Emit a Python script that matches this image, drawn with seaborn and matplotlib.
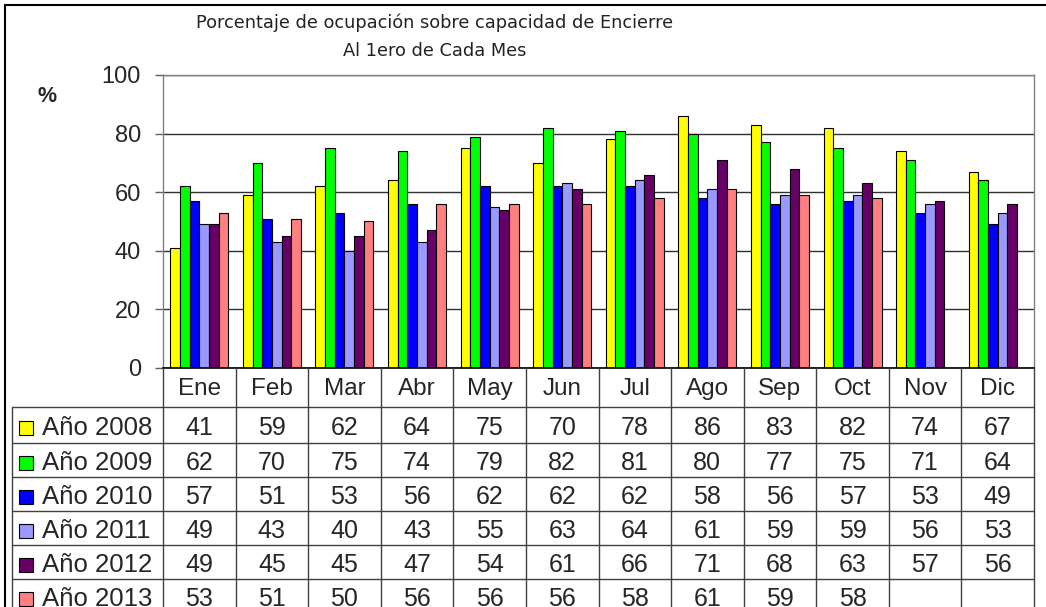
import numpy as np
import pandas as pd
import matplotlib
matplotlib.use("Agg")
import matplotlib.pyplot as plt
import seaborn as sns
from matplotlib.transforms import blended_transform_factory
from matplotlib.patches import Rectangle
from matplotlib.lines import Line2D

months = ["Ene", "Feb", "Mar", "Abr", "May", "Jun", "Jul", "Ago", "Sep", "Oct", "Nov", "Dic"]
years = ["Año 2008", "Año 2009", "Año 2010", "Año 2011", "Año 2012", "Año 2013"]
v2008 = [41, 59, 62, 64, 75, 70, 78, 86, 83, 82, 74, 67]
v2009 = [62, 70, 75, 74, 79, 82, 81, 80, 77, 75, 71, 64]
v2010 = [57, 51, 53, 56, 62, 62, 62, 58, 56, 57, 53, 49]
v2011 = [49, 43, 40, 43, 55, 63, 64, 61, 59, 59, 56, 53]
v2012 = [49, 45, 45, 47, 54, 61, 66, 71, 68, 63, 57, 56]
v2013 = [53, 51, 50, 56, 56, 56, 58, 61, 59, 58, None, None]
series = [v2008, v2009, v2010, v2011, v2012, v2013]
colors = ["#FFFF00", "#00FF00", "#0000FF", "#9999FF", "#660066", "#FF8080"]
yticks = [0, 20, 40, 60, 80, 100]
title_lines = ["Porcentaje de ocupación sobre capacidad de Encierre", "Al 1ero de Cada Mes"]

rows = []
for yr, vals in zip(years, series):
    for m, v in zip(months, vals):
        rows.append({"Mes": m, "Año": yr, "Valor": np.nan if v is None else v})
df = pd.DataFrame(rows).dropna()

sns.set_style("white")
plt.rcParams["font.family"] = ["Liberation Sans", "DejaVu Sans"]

W, H = 1046, 607
fig = plt.figure(figsize=(W / 100, H / 100), dpi=100)
fig.patch.set_facecolor("white")

L, R, T, B = 163, 1034, 75, 368
ax = fig.add_axes([L / W, 1 - B / H, (R - L) / W, (B - T) / H])
sns.barplot(data=df, x="Mes", y="Valor", hue="Año", order=months, hue_order=years,
            palette=colors, saturation=1, edgecolor="black", linewidth=0.8,
            width=0.8, legend=False, ax=ax, errorbar=None)
ax.set_xlim(-0.5, len(months) - 0.5)
ax.set_ylim(0, 100)
ax.set_yticks(yticks)
ax.set_yticklabels([str(t) for t in yticks], fontsize=17)
ax.set_xticks([])
ax.set_xlabel("")
ax.set_ylabel("")
ax.yaxis.grid(True, color="#303030", linewidth=1)
ax.set_axisbelow(True)
ax.tick_params(axis="y", direction="out", length=6, width=1, color="#606060", pad=10, left=True)
for s in ["top", "right", "left"]:
    ax.spines[s].set_color("#808080")
    ax.spines[s].set_linewidth(1)
ax.spines["bottom"].set_color("black")
ax.spines["bottom"].set_linewidth(1.2)

# overlay in pixel coordinates
ov = fig.add_axes([0, 0, 1, 1], zorder=5)
ov.set_xlim(0, W)
ov.set_ylim(H, 0)
ov.axis("off")
bt = blended_transform_factory(ax.transData, ov.transData)

# outer frame
ov.add_line(Line2D([5, W], [5, 5], color="black", lw=1.5))
ov.add_line(Line2D([5, 5], [5, H], color="black", lw=1.5))

# title and % label
ov.text(435, 23, title_lines[0], ha="center", va="center", fontsize=12.8, family="DejaVu Sans", color="#222222")
ov.text(435, 51, title_lines[1], ha="center", va="center", fontsize=12.8, family="DejaVu Sans", color="#222222")
ov.text(47, 97, "%", ha="center", va="center", fontsize=15.5, fontweight="bold")

# data table
row_tops = [407, 443, 477, 511, 545, 579]
row_h = 34
line_c = "#404040"
for yt in row_tops:
    ov.add_line(Line2D([12, R], [yt, yt], color=line_c, lw=1))
ov.add_line(Line2D([12, 12], [row_tops[0], H], color=line_c, lw=1))
for i in range(len(months) + 1):
    ov.add_line(Line2D([i - 0.5, i - 0.5], [B, H], color=line_c, lw=1, transform=bt))

for i, m in enumerate(months):
    ov.text(i, 389, m, ha="center", va="center", fontsize=17.5, transform=bt)

for r, (yr, vals, c) in enumerate(zip(years, series, colors)):
    yc = row_tops[r] + (row_tops[r + 1] - row_tops[r] if r + 1 < len(row_tops) else row_h) / 2 + 3
    ov.add_patch(Rectangle((19, yc - 7), 14, 14, facecolor=c, edgecolor="black", lw=0.8))
    ov.text(42, yc, yr, ha="left", va="center", fontsize=18.5)
    for i, v in enumerate(vals):
        if v is not None:
            ov.text(i, yc, str(v), ha="center", va="center", fontsize=18, transform=bt)

fig.savefig("out.png", dpi=100, facecolor="white")
